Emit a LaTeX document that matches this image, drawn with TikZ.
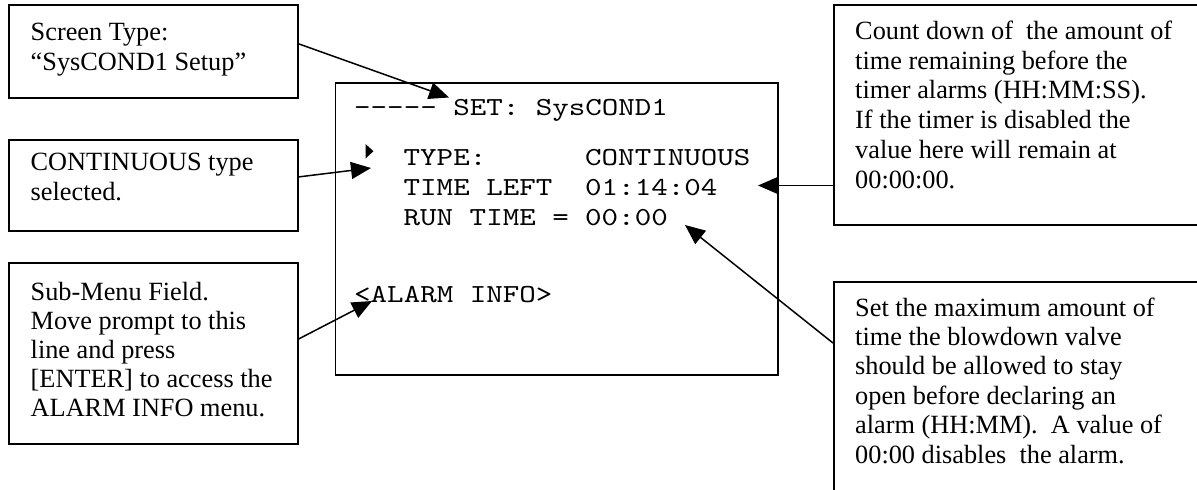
\documentclass[tikz,border=0pt]{standalone}
\usepackage{fontspec}
\setmainfont{Liberation Serif}
\newfontfamily\scrfont{lmmono10-regular.otf}[FakeStretch=1.21,Ligatures=TeXOff]
\usetikzlibrary{arrows.meta}
\newcommand{\boxtext}[2]{\parbox[t]{335pt}{\raggedright\fontsize{26.3pt}{#1}\selectfont #2}}
\begin{document}
\begin{tikzpicture}[x=1pt,y=-1pt,
  frame/.style={draw, line width=1.8pt, inner sep=0pt, anchor=north west},
  note/.style={inner sep=0pt, anchor=base west},
  scr/.style={inner sep=0pt, anchor=base west, font=\scrfont\fontsize{26pt}{30pt}\selectfont},
  pointer/.style={line width=1.5pt, -{Triangle[length=20pt,width=17pt]}}]
\useasboundingbox (0,0) rectangle (1197,490);
\clip (0,0) rectangle (1197,490);
% frames
\node[frame, minimum width=289pt, minimum height=93pt] (A) at (8,4) {};
\node[frame, minimum width=289pt, minimum height=91pt] (B) at (8,139) {};
\node[frame, minimum width=289pt, minimum height=181pt] (C) at (8,262) {};
\node[frame, minimum width=442.5pt, minimum height=292pt] (S) at (334.5,82.3) {};
\node[frame, minimum width=380pt, minimum height=220pt] (D) at (833,4) {};
\node[frame, minimum width=380pt, minimum height=260pt] (E) at (833,281) {};
% note texts
\node[note] (At) at (30.5,40) {\boxtext{30.7pt}{Screen Type:\\“SysCOND1 Setup”}};
\node[note] (Bt) at (30.5,170) {\boxtext{30pt}{CONTINUOUS type\\selected.}};
\node[note] (Ct) at (30.5,300) {\boxtext{29.2pt}{Sub-Menu Field.\\Move prompt to this\\line and press\\\relax [ENTER] to access the\\ALARM INFO menu.}};
\node[note] (Dt) at (855,39.3) {\boxtext{29.8pt}{Count down of\ \ the amount of\\time remaining before the\\timer alarms (HH:MM:SS).\\If the timer is disabled the\\value here will remain at\\00:00:00.}};
\node[note] (Et) at (855,316) {\boxtext{29.4pt}{Set the maximum amount of\\time the blowdown valve\\should be allowed to stay\\open before declaring an\\alarm (HH:MM).\ \ A value of\\00:00 disables\ \ the alarm.}};
% screen texts
\node[scr] (s0) at (354,115) {----- SET: SysCOND1};
\node[scr] (s1) at (403.5,165.7) {TYPE:};
\node[scr] (v1) at (585,165.7) {CONTINUOUS};
\node[scr] (s2) at (403.5,195.7) {TIME LEFT};
\node[scr] (v2) at (585,195.7) {01:14:04};
\node[scr] (s3) at (403.5,225.7) {RUN TIME =};
\node[scr] (v3) at (585,225.7) {00:00};
\node[scr] (s4) at (354,302.7) {<ALARM INFO>};
% cursor
\fill (365.5,144) -- (365.5,158.5) -- (373.5,151.2) -- cycle;
% connectors
\coordinate (t1) at (449,97.5);
\coordinate (t2) at (371,168);
\coordinate (t3) at (372,301);
\coordinate (t4) at (758,185.5);
\coordinate (t5) at (685,225);
\draw[pointer] ([yshift=7.5pt]A.east) -- (t1);
\draw[pointer] ([yshift=8.5pt]B.east) -- (t2);
\draw[pointer] ([yshift=14.5pt]C.east) -- (t3);
\draw[pointer] (t4 -| D.west) -- (t4);
\draw[pointer] ([yshift=-62pt]E.north west) -- (t5);
\end{tikzpicture}
\end{document}
